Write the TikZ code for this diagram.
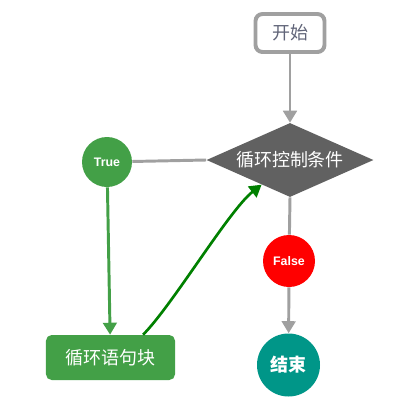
\documentclass[tikz,border=0pt]{standalone}
\usepackage{fontspec}
\setmainfont{Liberation Sans}
\newfontfamily\cjk{Noto Sans CJK SC}
\usetikzlibrary{positioning, arrows.meta, shapes.geometric}
\definecolor{linegray}{RGB}{160,160,160}
\definecolor{condgray}{RGB}{97,97,97}
\definecolor{loopgreen}{RGB}{67,160,71}
\definecolor{curvegreen}{RGB}{0,128,0}
\definecolor{endteal}{RGB}{0,150,136}
\definecolor{textgray}{RGB}{96,100,120}

\begin{document}
\begin{tikzpicture}[
  startbox/.style={rectangle, draw=linegray, line width=2.8pt, fill=white,
                   rounded corners=5pt, minimum width=1.725cm, minimum height=0.95cm,
                   font=\cjk\fontsize{12.8}{14}\selectfont, text=textgray},
  condbox/.style={diamond, fill=condgray, aspect=2.26, inner sep=0pt,
                  minimum width=4.175cm, minimum height=1.85cm,
                  font=\cjk\fontsize{12.8}{14}\selectfont, text=white},
  loopbox/.style={rectangle, fill=loopgreen, rounded corners=4pt,
                  minimum width=3.225cm, minimum height=1.125cm,
                  font=\cjk\fontsize{12.8}{14}\selectfont, text=white},
  branch/.style={circle, fill=#1, inner sep=0pt, text=white,
                 font=\bfseries\fontsize{8.8}{10}\selectfont},
  endnode/.style={circle, fill=endteal, inner sep=0pt, minimum size=1.575cm,
                  font=\cjk\bfseries\fontsize{12.8}{14}\selectfont, text=white},
  flow/.style={-{Triangle[length=0.3cm, width=0.34cm]}, line width=2.1pt, draw=linegray},
  link/.style={line width=2.1pt, draw=linegray}
]
\useasboundingbox (0,0) rectangle (10.1,-10.5);

% ===== NODES =====
\node[startbox] (start) at (7.25,-0.825) {开始};
\node[condbox] (cond) at (7.25,-4.0) {循环控制条件};
\node[branch=loopgreen, minimum size=1.25cm] (yes) at (2.675,-4.05) {True};
\node[loopbox] (body) at (2.7625,-8.9375) {循环语句块};
\node[branch=red, minimum size=1.3cm] (no) at (7.225,-6.525) {False};
\node[endnode] (stop) at (7.2125,-9.125) {结束};

% ===== CONNECTORS =====
\draw[flow] (start) -- (cond);
\draw[link] (cond.west) -- (yes);
\draw[flow, draw=loopgreen] (yes) -- (body);
\draw[flow, draw=curvegreen, line width=1.9pt] (body.35) to[out=45, in=218, looseness=0.55] (cond.221);
\draw[link] (cond.south) -- (no);
\draw[flow] (no) -- (stop);

\end{tikzpicture}
\end{document}
